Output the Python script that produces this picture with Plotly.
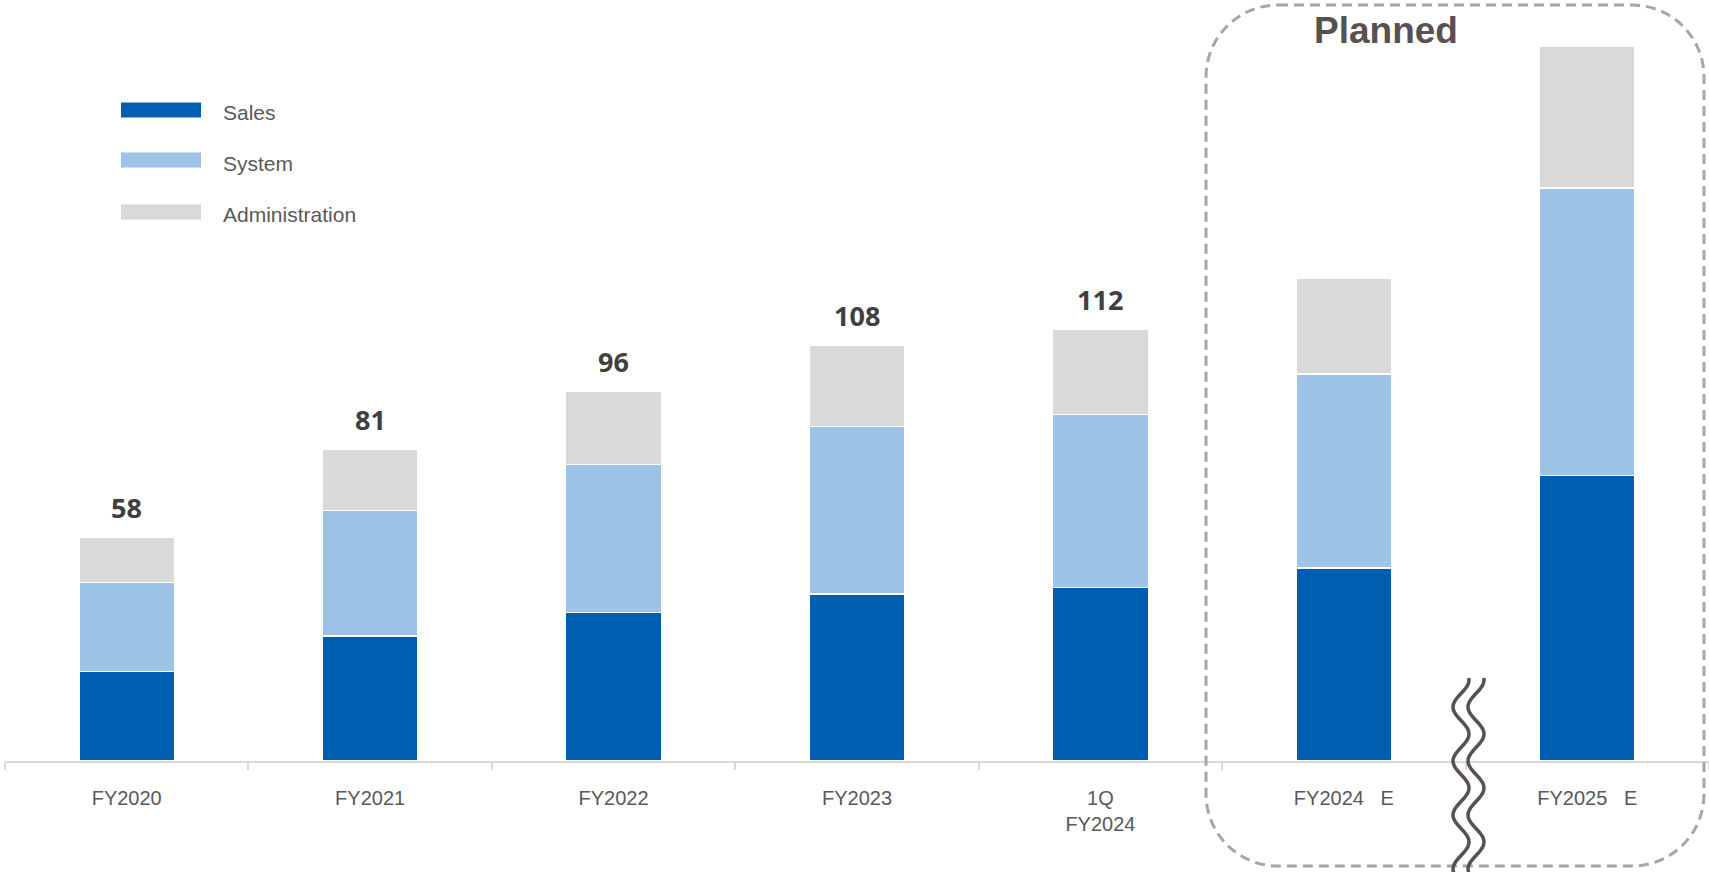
import math
import plotly.graph_objects as go

categories = ["FY2020", "FY2021", "FY2022", "FY2023", "1Q<br>FY2024",
              "FY2024\u00a0\u00a0\u00a0E", "FY2025\u00a0\u00a0\u00a0E"]
sales = [23.2, 32.5, 38.5, 43.3, 45.0, 50.1, 74.1]
system = [23.2, 32.6, 38.5, 43.6, 45.0, 50.4, 74.7]
admin = [11.6, 15.9, 19.0, 21.1, 22.0, 24.9, 36.8]
total_labels = ["58", "81", "96", "108", "112", "", ""]

C_SALES = "#005EB0"
C_SYSTEM = "#9DC3E6"
C_ADMIN = "#D9D9D9"

W, H = 1709, 872
L, T = 5, 0
PW, PH = 1704, 761  # plot area in pixels


def px(x):
    return (x - L) / PW


def py(y):
    return (T + PH - y) / PH


fig = go.Figure()
for name, vals, col in [("Sales", sales, C_SALES), ("System", system, C_SYSTEM),
                        ("Administration", admin, C_ADMIN)]:
    fig.add_trace(go.Bar(x=categories, y=vals, name=name, marker_color=col,
                         marker_line_color="white", marker_line_width=1.5,
                         showlegend=False, hoverinfo="skip"))

totals = [a + b + c for a, b, c in zip(sales, system, admin)]
annotations = []
for cat, tot, lab in zip(categories, totals, total_labels):
    if lab:
        annotations.append(dict(x=cat, y=tot, xref="x", yref="y", text=lab,
                                showarrow=False, yanchor="middle", yshift=30,
                                font=dict(family="Open Sans", size=27, color="#404040",
                                          weight="bold")))

shapes = []
# manual legend
legend_items = [("Sales", C_SALES, 110), ("System", C_SYSTEM, 160), ("Administration", C_ADMIN, 212)]
for name, col, cy in legend_items:
    shapes.append(dict(type="rect", xref="paper", yref="paper",
                       x0=px(121), x1=px(201), y0=py(cy - 7.5), y1=py(cy + 7.5),
                       fillcolor=col, line=dict(width=0)))
    annotations.append(dict(x=px(221), y=py(cy + 3), xref="paper", yref="paper",
                            text=name, showarrow=False, xanchor="left", yanchor="middle",
                            font=dict(family="Liberation Sans", size=21, color="#595959")))

# planned dashed rounded box
l, r, t, b, rad = 1206, 1704, 5, 866, 72
k = 0.448 * rad
pts = [
    f"M {px(l + rad)},{py(t)}",
    f"L {px(r - rad)},{py(t)}",
    f"C {px(r - k)},{py(t)} {px(r)},{py(t + k)} {px(r)},{py(t + rad)}",
    f"L {px(r)},{py(b - rad)}",
    f"C {px(r)},{py(b - k)} {px(r - k)},{py(b)} {px(r - rad)},{py(b)}",
    f"L {px(l + rad)},{py(b)}",
    f"C {px(l + k)},{py(b)} {px(l)},{py(b - k)} {px(l)},{py(b - rad)}",
    f"L {px(l)},{py(t + rad)}",
    f"C {px(l)},{py(t + k)} {px(l + k)},{py(t)} {px(l + rad)},{py(t)}",
    "Z",
]
shapes.append(dict(type="path", xref="paper", yref="paper", path=" ".join(pts),
                   line=dict(color="#A6A6A6", width=3, dash="10px,6px")))
annotations.append(dict(x=px(1386), y=py(31), xref="paper", yref="paper", text="<b>Planned</b>",
                        showarrow=False, xanchor="center", yanchor="middle",
                        font=dict(family="Liberation Sans", size=37, color="#595050")))

# axis break squiggles
for x0 in (1461, 1476):
    seg = []
    yy = 678
    first = True
    while yy <= 874:
        xx = x0 + 8 * math.cos(2 * math.pi * (yy - 680) / 54)
        seg.append(("M " if first else "L ") + f"{px(xx)},{py(yy)}")
        first = False
        yy += 2
    shapes.append(dict(type="path", xref="paper", yref="paper", path=" ".join(seg),
                       line=dict(color="#595050", width=3.5)))

fig.update_layout(
    width=W, height=H,
    margin=dict(l=L, r=W - L - PW, t=T, b=H - T - PH, pad=0),
    barmode="stack", bargap=0.606,
    plot_bgcolor="white", paper_bgcolor="white",
    showlegend=False, hovermode=False,
    annotations=annotations, shapes=shapes,
    xaxis=dict(type="category", showline=True, linecolor="#D9D9D9", linewidth=1.5,
               ticks="outside", tickson="boundaries", ticklen=7, tickcolor="#D9D9D9",
               tickwidth=1.5, showgrid=False, ticklabelstandoff=18,
               tickfont=dict(family="Liberation Sans", size=20, color="#595959")),
    yaxis=dict(range=[0, 197.6], visible=False, showgrid=False, zeroline=False),
)

fig.write_html("out.html", config={"displayModeBar": False},
               post_script="document.body.style.margin='0';document.body.style.overflow='hidden';")
